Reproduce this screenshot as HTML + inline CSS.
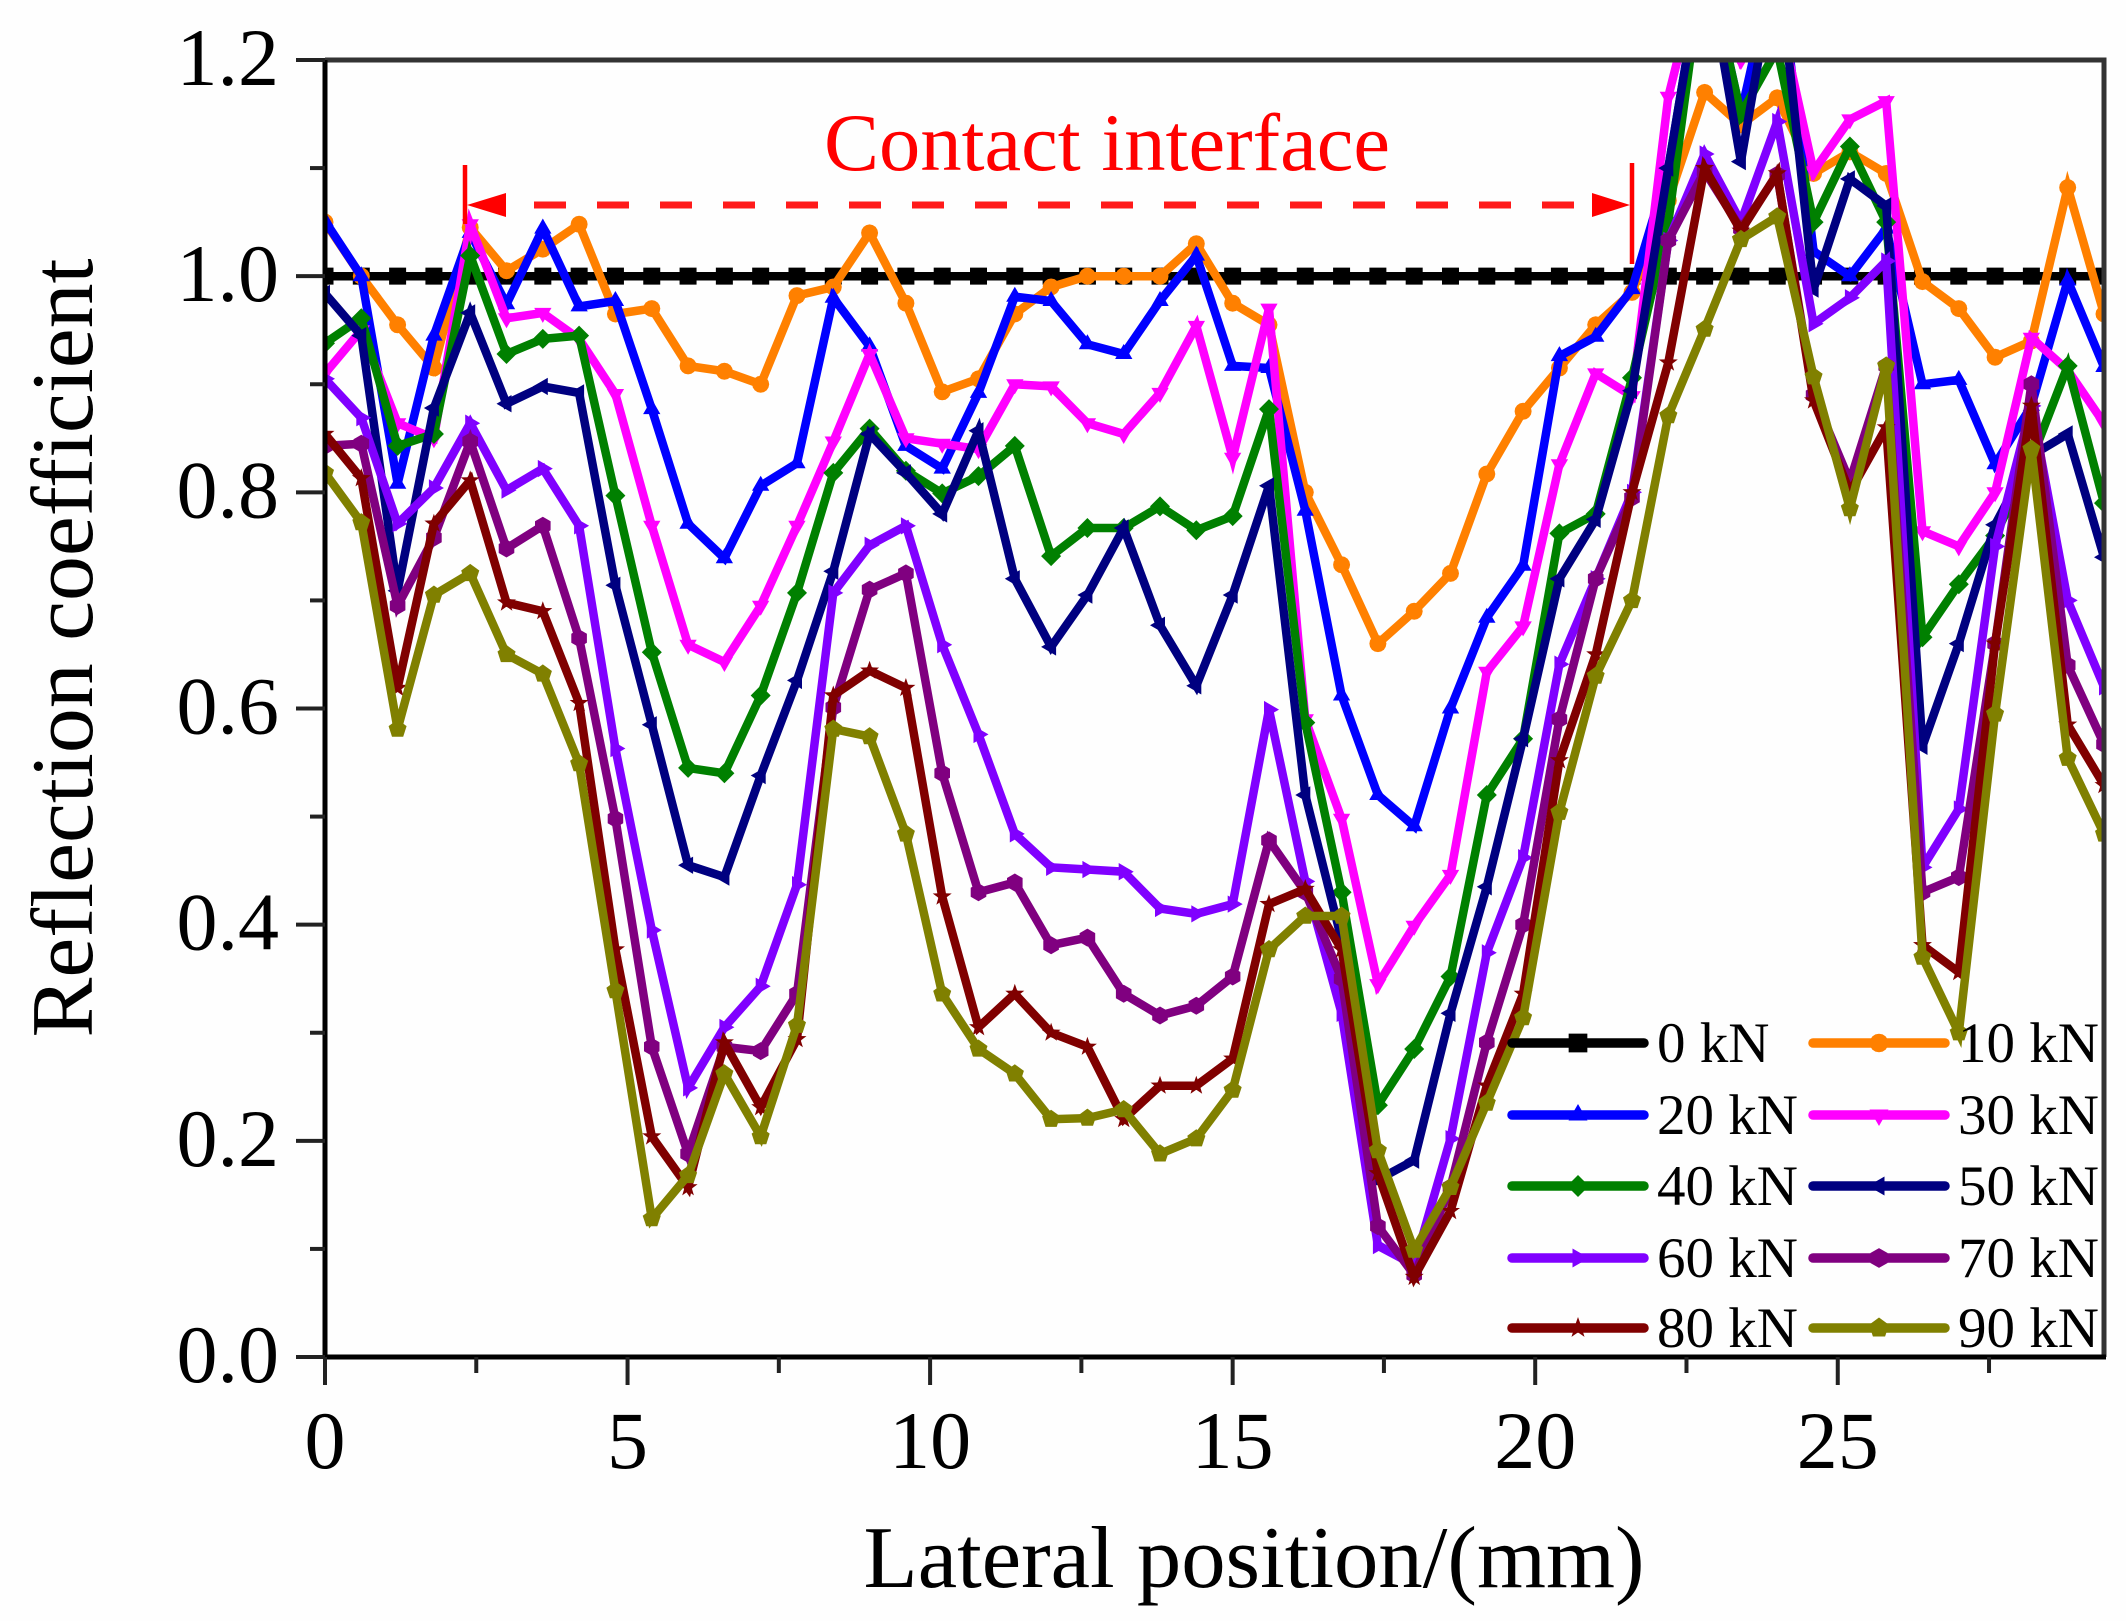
<!DOCTYPE html>
<html lang="en">
<head>
<meta charset="utf-8">
<title>Reflection coefficient vs lateral position</title>
<style>
html,body{margin:0;padding:0;background:#fff;}
svg{display:block;}
text{font-family:"Liberation Serif",serif;}
</style>
</head>
<body>
<svg id="chart" xmlns="http://www.w3.org/2000/svg" width="2126" height="1621" viewBox="0 0 2126 1621">
  <rect x="0" y="0" width="2126" height="1621" fill="#fefefe"/>
  <defs>
    <clipPath id="plot-clip"><rect x="325" y="60" width="1779" height="1297"/></clipPath>
  </defs>
  <g id="series-layer" clip-path="url(#plot-clip)"></g>
  <g id="axes-layer"></g>
  <g>
    <text x="824" y="170" font-size="82" fill="#ff0000" textLength="566" lengthAdjust="spacingAndGlyphs">Contact interface</text>
    <line x1="465" y1="165" x2="465" y2="224" stroke="#ff0000" stroke-width="4.5"/>
    <line x1="1632" y1="163" x2="1632" y2="264" stroke="#ff0000" stroke-width="4.5"/>
    <line x1="534" y1="205" x2="1592" y2="205" stroke="#ff1a1a" stroke-width="7" stroke-dasharray="32 31"/>
    <polygon points="467,205 506,193 506,217" fill="#ff0000"/>
    <polygon points="1630,205 1592,193 1592,217" fill="#ff0000"/>
  </g>
  <g id="legend-layer"></g>
  <text x="1254" y="1587" font-size="88" text-anchor="middle" fill="#000" textLength="781" lengthAdjust="spacingAndGlyphs">Lateral position/(mm)</text>
  <text transform="translate(92 648) rotate(-90)" x="0" y="0" font-size="88" text-anchor="middle" fill="#000" textLength="779" lengthAdjust="spacingAndGlyphs">Reflection coefficient</text>
</svg>
<script>
const positions = [0,0.6,1.2,1.8,2.4,3,3.6,4.2,4.8,5.4,6,6.6,7.2,7.8,8.4,9,9.6,10.2,10.8,11.4,12,12.6,13.2,13.8,14.4,15,15.6,16.2,16.8,17.4,18,18.6,19.2,19.8,20.4,21,21.6,22.2,22.8,23.4,24,24.6,25.2,25.8,26.4,27,27.6,28.2,28.8,29.4];
const values0kN = [1,1,1,1,1,1,1,1,1,1,1,1,1,1,1,1,1,1,1,1,1,1,1,1,1,1,1,1,1,1,1,1,1,1,1,1,1,1,1,1,1,1,1,1,1,1,1,1,1,1];
const values10kN = [1.05,1.0,.955,.915,1.045,1.005,1.025,1.048,.965,.97,.917,.912,.90,.982,.99,1.04,.975,.893,.905,.965,.99,1.0,1.0,1.0,1.03,.975,.955,.80,.733,.66,.69,.725,.817,.875,.915,.955,.985,1.07,1.17,1.14,1.165,1.095,1.115,1.095,.995,.97,.925,.94,1.082,.965];
const values20kN = [1.051,1.0,.808,.945,1.04,.974,1.044,.972,.977,.877,.771,.739,.806,.827,.98,.935,.843,.822,.892,.981,.977,.937,.928,.977,1.019,.917,.915,.783,.612,.52,.491,.60,.684,.732,.926,.944,.988,1.1,1.3,1.15,1.3,1.023,1.0,1.044,.9,.904,.826,.88,.996,.916];
const values30kN = [.91,.95,.864,.85,1.048,.961,.966,.942,.891,.769,.659,.643,.695,.769,.847,.928,.85,.845,.84,.9,.898,.864,.854,.892,.954,.832,.97,.59,.498,.345,.399,.446,.634,.676,.826,.91,.889,1.166,1.3,1.2,1.25,1.097,1.145,1.162,.764,.75,.8,.943,.913,.864];
const values40kN = [.938,.961,.843,.854,1.019,.928,.942,.945,.797,.652,.545,.54,.612,.707,.818,.859,.82,.799,.815,.843,.741,.767,.767,.787,.765,.778,.877,.587,.43,.233,.285,.352,.52,.572,.762,.78,.906,1.05,1.3,1.15,1.21,1.05,1.12,1.05,.666,.715,.76,.83,.917,.79];
const values50kN = [.984,.945,.709,.878,.966,.882,.898,.892,.714,.585,.455,.444,.538,.626,.727,.854,.818,.78,.857,.72,.657,.705,.767,.677,.621,.705,.806,.52,.386,.164,.182,.318,.435,.572,.72,.775,.894,1.1,1.3,1.106,1.3,.988,1.09,1.065,.565,.66,.77,.834,.854,.74];
const values60kN = [.905,.869,.771,.804,.864,.802,.822,.769,.563,.395,.249,.305,.343,.437,.707,.751,.769,.659,.576,.484,.453,.451,.449,.415,.41,.419,.599,.44,.318,.103,.085,.202,.374,.462,.641,.72,.80,1.033,1.113,1.05,1.143,.956,.98,1.014,.453,.507,.75,.88,.70,.62];
const values70kN = [.843,.845,.695,.758,.847,.748,.769,.665,.498,.287,.188,.287,.283,.336,.601,.71,.725,.54,.43,.439,.381,.388,.336,.316,.325,.352,.478,.43,.35,.121,.076,.157,.291,.40,.59,.72,.795,1.033,1.097,1.044,1.094,.89,.81,.917,.43,.444,.66,.9,.64,.567];
const values80kN = [.854,.813,.619,.771,.811,.698,.69,.605,.377,.204,.157,.291,.231,.294,.612,.635,.619,.426,.305,.336,.30,.287,.22,.251,.251,.276,.419,.433,.377,.17,.074,.135,.251,.336,.552,.65,.80,.92,1.10,1.042,1.095,.885,.80,.86,.381,.356,.66,.88,.585,.529];
const values90kN = [.818,.772,.581,.705,.725,.65,.632,.549,.339,.128,.168,.262,.204,.307,.581,.574,.484,.336,.285,.262,.22,.221,.229,.188,.202,.247,.377,.408,.408,.191,.099,.157,.235,.314,.504,.63,.70,.871,.951,1.034,1.055,.907,.785,.917,.37,.30,.595,.84,.554,.484];
const seriesLabels = ["0 kN","10 kN","20 kN","30 kN","40 kN","50 kN","60 kN","70 kN","80 kN","90 kN"];
const seriesValues = [values0kN,values10kN,values20kN,values30kN,values40kN,values50kN,values60kN,values70kN,values80kN,values90kN];
const seriesColors = ["#000000","#ff8000","#0000ff","#ff00ff","#008000","#000080","#8000ff","#800080","#800000","#808000"];
const seriesMarkers = ["square","circle","up","down","diamond","left","right","hexagon","star","pentagon"];
const yTickLabels = ["0.0","0.2","0.4","0.6","0.8","1.0","1.2"];
const xTickLabels = ["0","5","10","15","20","25"];
const yMinorTicks = [0.1,0.3,0.5,0.7,0.9,1.1];
const xMinorTicks = [2.5,7.5,12.5,17.5,22.5,27.5];

const NS = "http://www.w3.org/2000/svg";
const PLOT = {left:325,right:2104,top:60,bottom:1357,xMax:29.4,yMax:1.2};
function xScale(v){return PLOT.left + v/PLOT.xMax*(PLOT.right-PLOT.left);}
function yScale(v){return PLOT.bottom - v/PLOT.yMax*(PLOT.bottom-PLOT.top);}
function make(tag,parent,attrs){
  const el = document.createElementNS(NS,tag);
  for(const k in attrs){el.setAttribute(k,attrs[k]);}
  parent.appendChild(el);
  return el;
}
function slug(label){return label.replace(" ","-").toLowerCase();}
function markerPoints(kind,cx,cy,r){
  const poly = (n,start,rr)=>{
    const out=[];
    for(let i=0;i<n;i++){const a=start+i*2*Math.PI/n;out.push((cx+rr*Math.cos(a)).toFixed(1)+","+(cy+rr*Math.sin(a)).toFixed(1));}
    return out.join(" ");
  };
  if(kind==="square"){return [[-.85,-.85],[.85,-.85],[.85,.85],[-.85,.85]].map(p=>(cx+p[0]*r)+","+(cy+p[1]*r)).join(" ");}
  if(kind==="circle"){return poly(16,0,r*0.85);}
  if(kind==="up"){return poly(3,-Math.PI/2,r);}
  if(kind==="down"){return poly(3,Math.PI/2,r);}
  if(kind==="left"){return poly(3,Math.PI,r);}
  if(kind==="right"){return poly(3,0,r);}
  if(kind==="diamond"){return poly(4,0,r);}
  if(kind==="hexagon"){return poly(6,Math.PI/6,r*0.9);}
  if(kind==="pentagon"){return poly(5,-Math.PI/2,r*0.95);}
  const out=[];
  for(let i=0;i<10;i++){const a=-Math.PI/2+i*Math.PI/5;const q=i%2?r*0.4:r;out.push((cx+q*Math.cos(a)).toFixed(1)+","+(cy+q*Math.sin(a)).toFixed(1));}
  return out.join(" ");
}
function drawSeries(){
  const layer = document.getElementById("series-layer");
  seriesValues.forEach((vals,s)=>{
    const g = make("g",layer,{});
    
    
    const pts = vals.map((v,i)=>xScale(positions[i]).toFixed(1)+","+yScale(v).toFixed(1)).join(" ");
    const line = make("polyline",g,{points:pts,fill:"none",stroke:seriesColors[s],"stroke-width":8.5,"stroke-linejoin":"miter"});
    
    
    vals.forEach((v,i)=>{
      const m = make("polygon",g,{points:markerPoints(seriesMarkers[s],xScale(positions[i]),yScale(v),10),fill:seriesColors[s]});
      
      
    });
  });
}
function drawAxes(){
  const layer = document.getElementById("axes-layer");
  const border = make("polyline",layer,{points:[PLOT.left,PLOT.top,PLOT.right,PLOT.top,PLOT.right,PLOT.bottom].join(" "),fill:"none",stroke:"#333",'stroke-width':5});
  
  
  const xAxis = make("line",layer,{x1:PLOT.left,y1:PLOT.bottom,x2:PLOT.right+2,y2:PLOT.bottom,stroke:"#000",'stroke-width':5});
  
  
  const yAxis = make("line",layer,{x1:PLOT.left,y1:PLOT.top,x2:PLOT.left,y2:PLOT.bottom,stroke:"#000",'stroke-width':5});
  
  
  yTickLabels.forEach(label=>{
    const v = parseFloat(label), y = yScale(v);
    const t = make("line",layer,{x1:296,y1:y,x2:PLOT.left,y2:y,stroke:"#222",'stroke-width':4});
    
    
    const txt = make("text",layer,{x:279,y:y+25,'font-size':82,'text-anchor':"end",fill:"#000"});
    
    
    txt.textContent = label;
  });
  yMinorTicks.forEach(v=>{
    const y = yScale(v);
    const t = make("line",layer,{x1:310,y1:y,x2:PLOT.left,y2:y,stroke:"#222",'stroke-width':4});
    
    
  });
  xTickLabels.forEach(label=>{
    const x = xScale(parseFloat(label));
    const t = make("line",layer,{x1:x,y1:PLOT.bottom,x2:x,y2:PLOT.bottom+28,stroke:"#222",'stroke-width':4});
    
    
    const txt = make("text",layer,{x:x,y:1468,'font-size':82,'text-anchor':"middle",fill:"#000"});
    
    
    txt.textContent = label;
  });
  xMinorTicks.forEach(v=>{
    const x = xScale(v);
    const t = make("line",layer,{x1:x,y1:PLOT.bottom,x2:x,y2:PLOT.bottom+16,stroke:"#222",'stroke-width':4});
    
    
  });
}
function drawLegend(){
  const layer = document.getElementById("legend-layer");
  const rowY = [1043,1115,1186,1258,1328];
  const colX = [1512,1813];
  seriesLabels.forEach((label,s)=>{
    const row = Math.floor(s/2), col = s%2;
    const g = make("g",layer,{});
    
    
    const x0 = colX[col], y = rowY[row];
    const ln = make("line",g,{x1:x0,y1:y,x2:x0+132,y2:y,stroke:seriesColors[s],'stroke-width':9.5,'stroke-linecap':"round"});
    
    
    const m = make("polygon",g,{points:markerPoints(seriesMarkers[s],x0+66,y,11),fill:seriesColors[s]});
    
    
    const txt = make("text",g,{x:x0+145,y:y+19,'font-size':57,fill:"#000"});
    
    
    txt.textContent = label;
  });
}
drawSeries();
drawAxes();
drawLegend();
</script>
</body>
</html>
